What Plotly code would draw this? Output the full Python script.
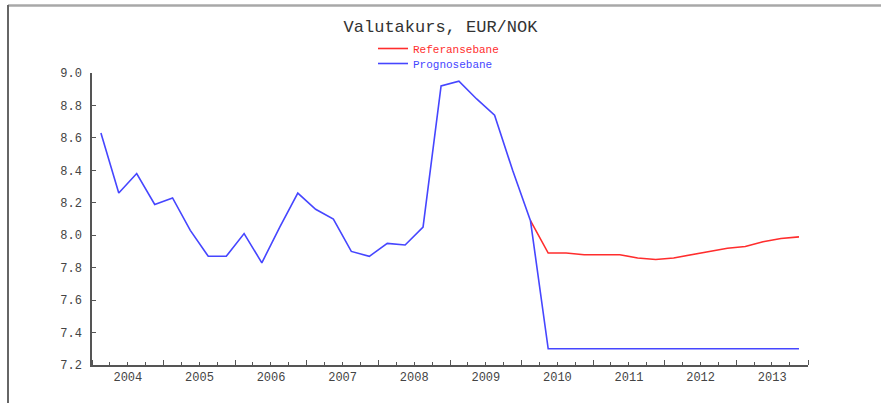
import pandas as pd
import plotly.graph_objects as go

# ---- data ----
quarters = pd.period_range("2004Q1", "2013Q4", freq="Q")
prognosebane = [
    8.63, 8.26, 8.38, 8.19,
    8.23, 8.03, 7.87, 7.87,
    8.01, 7.83, 8.05, 8.26,
    8.16, 8.10, 7.90, 7.87,
    7.95, 7.94, 8.05, 8.92,
    8.95, 8.84, 8.74, 8.40,
    8.09, 7.30, 7.30, 7.30,
    7.30, 7.30, 7.30, 7.30,
    7.30, 7.30, 7.30, 7.30,
    7.30, 7.30, 7.30, 7.30,
]
referansebane = [None] * 24 + [
    8.09, 7.89, 7.89, 7.88,
    7.88, 7.88, 7.86, 7.85,
    7.86, 7.88, 7.90, 7.92,
    7.93, 7.96, 7.98, 7.99,
]
title_text = "Valutakurs, EUR/NOK"
names = ["Referansebane", "Prognosebane"]
y_ticks = [7.2, 7.4, 7.6, 7.8, 8.0, 8.2, 8.4, 8.6, 8.8, 9.0]

# quarter midpoints as x positions
x_mid = [p.start_time + (p.end_time - p.start_time) / 2 for p in quarters]

RED = "rgb(255,45,45)"
BLUE = "rgb(70,70,255)"
FONT = "Liberation Mono"

fig = go.Figure()
fig.add_trace(go.Scatter(
    x=x_mid, y=referansebane, mode="lines",
    name=f"<span style='color:{RED}'>{names[0]}</span>",
    line=dict(color=RED, width=1.6), connectgaps=False, legend="legend",
))
fig.add_trace(go.Scatter(
    x=x_mid, y=prognosebane, mode="lines",
    name=f"<span style='color:{BLUE}'>{names[1]}</span>",
    line=dict(color=BLUE, width=1.6), legend="legend2",
))

W, H = 881, 403
L, R, T, B = 92, 73, 73, 38
pw, ph = W - L - R, H - T - B

def px_x(px):
    return (px - L) / pw

def px_y(py):
    return (H - B - py) / ph

legend_common = dict(xanchor="left", yanchor="top", bgcolor="rgba(0,0,0,0)",
                     font=dict(family=FONT, size=11), itemwidth=30)

fig.update_layout(
    width=W, height=H,
    margin=dict(l=L, r=R, t=T, b=B),
    paper_bgcolor="white", plot_bgcolor="white",
    title=dict(text=title_text, x=px_x(450), xanchor="center",
               y=1 - 26 / H, yanchor="middle",
               font=dict(family=FONT, size=17, color="#333")),
    showlegend=True,
    legend=dict(x=px_x(373), y=px_y(34), **legend_common),
    legend2=dict(x=px_x(373), y=px_y(49), **legend_common),
    xaxis=dict(
        type="date",
        range=["2004-01-01", "2014-01-01"],
        tick0="2004-01-01", dtick="M12",
        ticklabelmode="period", tickformat="%Y",
        ticks="inside", ticklen=5, tickwidth=1, tickcolor="#555",
        minor=dict(dtick="M3", ticks="inside", ticklen=3, tickcolor="#555", showgrid=False),
        showline=True, linecolor="#555", linewidth=1.5,
        showgrid=False, zeroline=False,
        tickfont=dict(family=FONT, size=12, color="#444"),
    ),
    yaxis=dict(
        range=[7.2, 9.0],
        tickvals=y_ticks, ticktext=[f"{v:.1f}" for v in y_ticks],
        ticks="inside", ticklen=4, tickwidth=1, tickcolor="#555",
        showline=True, linecolor="#555", linewidth=1.5,
        showgrid=False, zeroline=False,
        ticklabelstandoff=6,
        tickfont=dict(family=FONT, size=12, color="#444"),
    ),
    shapes=[
        dict(type="line", xref="paper", yref="paper",
             x0=px_x(8), x1=px_x(W), y0=px_y(5.5), y1=px_y(5.5),
             line=dict(color="#a8a8a8", width=2.5)),
        dict(type="line", xref="paper", yref="paper",
             x0=px_x(8), x1=px_x(8), y0=px_y(5), y1=px_y(H),
             line=dict(color="#666", width=2)),
    ],
)

fig.write_html(
    "out.html",
    config={"displayModeBar": False},
    post_script="document.body.style.margin='0';document.body.style.overflow='hidden';",
)
